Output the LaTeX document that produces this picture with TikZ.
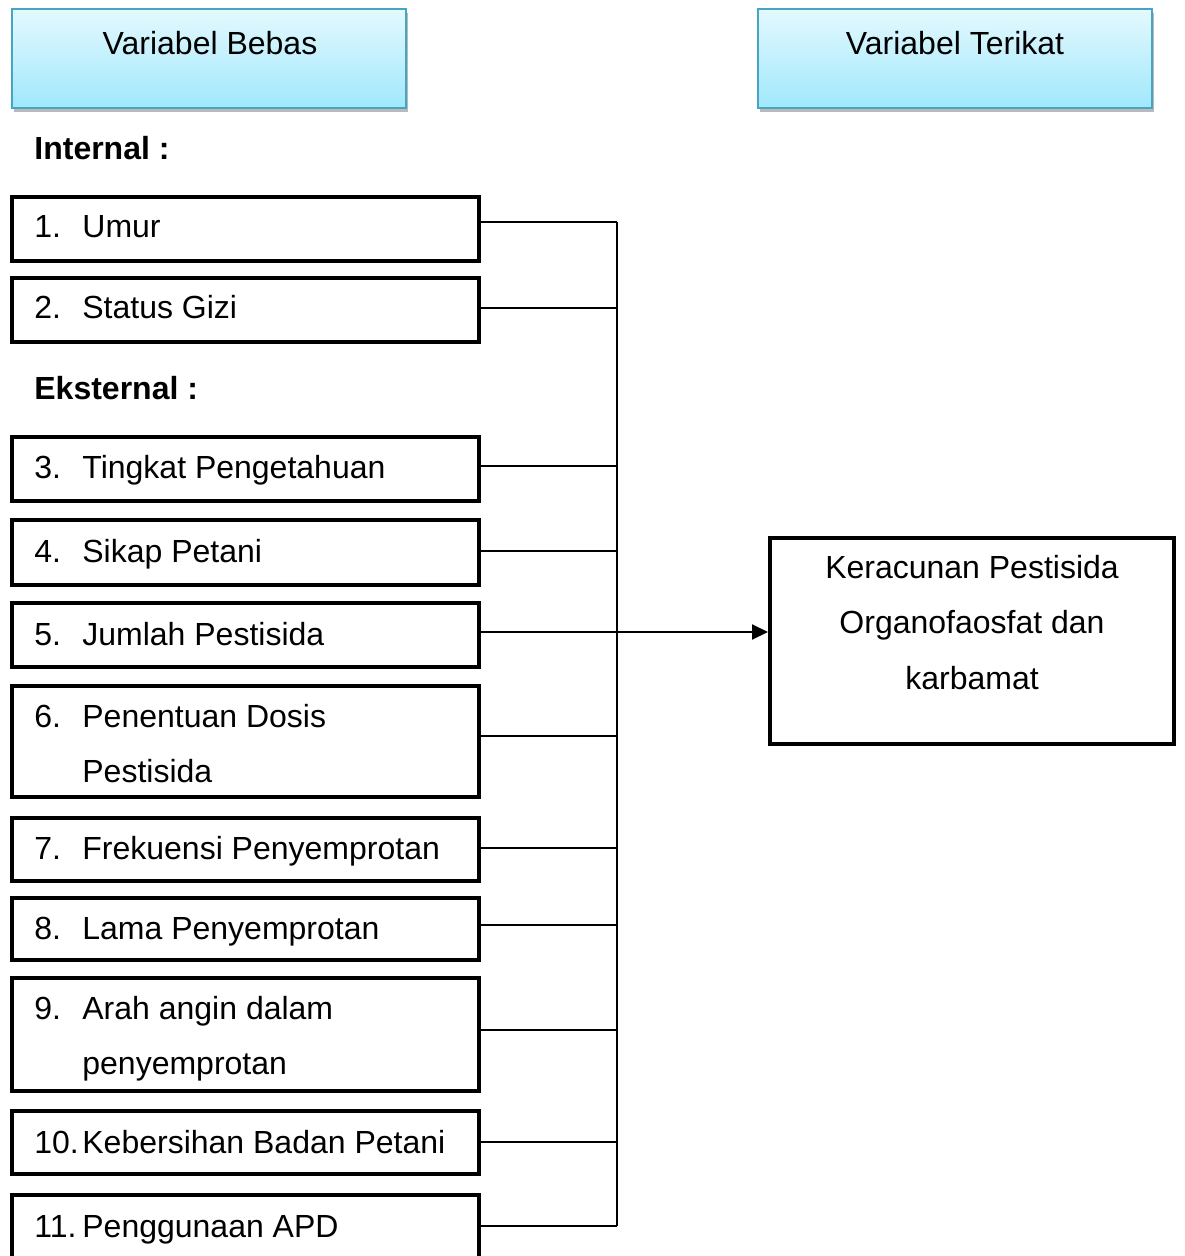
\documentclass[tikz,border=0pt]{standalone}
\usepackage{fontspec}
\setmainfont{Liberation Sans}
\usetikzlibrary{arrows.meta,shadows,calc}
\definecolor{hdrborder}{RGB}{70,165,195}
\definecolor{hdrtop}{RGB}{228,249,254}
\definecolor{hdrbot}{RGB}{160,232,252}
\begin{document}
\begin{tikzpicture}[x=0.5pt,y=-0.5pt,
  every node/.style={font=\fontsize{16pt}{19pt}\selectfont, inner sep=0pt},
  itembox/.style={draw, line width=2pt, minimum width=233.5pt, rectangle},
  hdr/.style={draw=hdrborder, line width=1.1pt, top color=hdrtop, bottom color=hdrbot,
    minimum width=197pt, minimum height=49.5pt,
    drop shadow={shadow xshift=1pt, shadow yshift=-2pt, opacity=0.45, fill=black!60}},
  txt/.style={anchor=base west},
  ctr/.style={anchor=base},
  conn/.style={line width=1pt}]
\useasboundingbox (0,0) rectangle (1184,1256);
\clip (0,0) rectangle (1184,1256);

% headers
\node[hdr] (hb) at (209,58.5) {};
\node[hdr] (ht) at (955,58.5) {};
\node[ctr] (hbt) at (210,55) {Variabel Bebas};
\node[ctr] (htt) at (955,55) {Variabel Terikat};

% section labels
\node[txt] (internal) at (34,160) {\bfseries Internal :};
\node[txt] (eksternal) at (34,400) {\bfseries Eksternal :};

% item boxes
\node[itembox, minimum height=32pt]   (b1)  at (245.5,229) {};
\node[itembox, minimum height=32pt]   (b2)  at (245.5,310) {};
\node[itembox, minimum height=32pt]   (b3)  at (245.5,469) {};
\node[itembox, minimum height=32.5pt] (b4)  at (245.5,552.5) {};
\node[itembox, minimum height=32pt]   (b5)  at (245.5,635) {};
\node[itembox, minimum height=55.5pt] (b6)  at (245.5,741.5) {};
\node[itembox, minimum height=31.5pt] (b7)  at (245.5,849.5) {};
\node[itembox, minimum height=31pt]   (b8)  at (245.5,929) {};
\node[itembox, minimum height=56.5pt] (b9)  at (245.5,1034.5) {};
\node[itembox, minimum height=31.5pt] (b10) at (245.5,1142.5) {};
\node[itembox, minimum height=36.5pt] (b11) at (245.5,1231.5) {};

% item texts
\node[txt] (n1)  at (34,238)  {1.};  \node[txt] (t1)  at (82,238)  {Umur};
\node[txt] (n2)  at (34,319)  {2.};  \node[txt] (t2)  at (82,319)  {Status Gizi};
\node[txt] (n3)  at (34,478)  {3.};  \node[txt] (t3)  at (82,478)  {Tingkat Pengetahuan};
\node[txt] (n4)  at (34,562)  {4.};  \node[txt] (t4)  at (82,562)  {Sikap Petani};
\node[txt] (n5)  at (34,645)  {5.};  \node[txt] (t5)  at (82,645)  {Jumlah Pestisida};
\node[txt] (n6)  at (34,727)  {6.};  \node[txt] (t6)  at (82,727)  {Penentuan Dosis};
\node[txt] (t6b) at (82,782) {Pestisida};
\node[txt] (n7)  at (34,859)  {7.};  \node[txt] (t7)  at (82,859)  {Frekuensi Penyemprotan};
\node[txt] (n8)  at (34,939)  {8.};  \node[txt] (t8)  at (82,939)  {Lama Penyemprotan};
\node[txt] (n9)  at (34,1019) {9.};  \node[txt] (t9)  at (82,1019) {Arah angin dalam};
\node[txt] (t9b) at (82,1074) {penyemprotan};
\node[txt] (n10) at (34,1153) {10.}; \node[txt] (t10) at (82,1153) {Kebersihan Badan Petani};
\node[txt] (n11) at (34,1237) {11.}; \node[txt] (t11) at (82,1237) {Penggunaan APD};

% target box
\node[itembox, minimum width=202pt, minimum height=103pt] (tgt) at (972,641) {};
\node[ctr] (k1) at (972,578) {Keracunan Pestisida};
\node[ctr] (k2) at (972,633) {Organofaosfat dan};
\node[ctr] (k3) at (972,689) {karbamat};

% connectors
\coordinate (bus) at (617,0);
\foreach \b/\s in {1/-7,2/-2,3/-3,4/-1.5,5/-3,6/-5.5,7/-1.5,8/-4,9/-4.5,10/-0.5,11/-5.5}{
  \coordinate (p\b) at ($(b\b.east)+(0,\s)$);
  \draw[conn] (p\b) -- (p\b -| bus);
}
\draw[conn] (p1 -| bus) -- (p11 -| bus);
\draw[conn,-{Triangle[length=8pt,width=7.5pt]}] (p5) -- (p5 -| tgt.west);
\end{tikzpicture}
\end{document}
